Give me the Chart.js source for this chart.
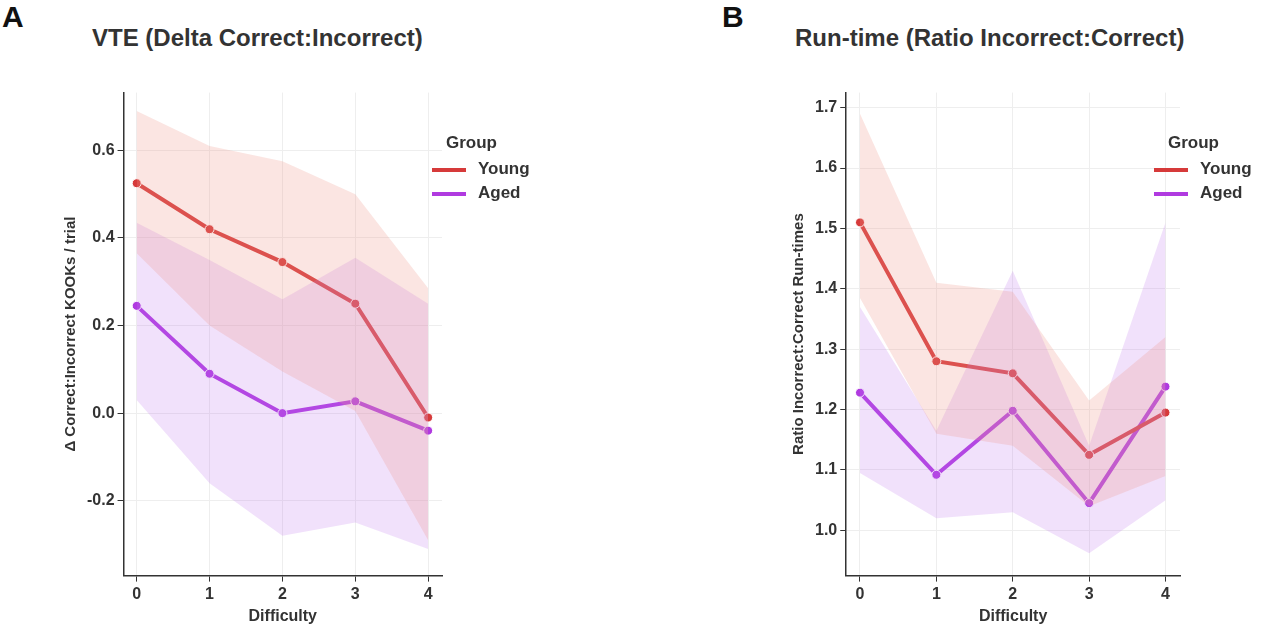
<!DOCTYPE html>
<html><head><meta charset="utf-8">
<script src="https://cdn.jsdelivr.net/npm/chart.js@4/dist/chart.umd.min.js"></script>
<style>
body{margin:0;width:1280px;height:626px;background:#fff;font-family:"Liberation Sans","DejaVu Sans",sans-serif;position:relative;overflow:hidden}
.abs{position:absolute}
.lab{font-size:30px;font-weight:bold;color:#111}
.title{font-size:24px;font-weight:bold;color:#333}
.leg{font-size:17px;font-weight:bold;color:#333}
.sw{display:inline-block;width:34px;height:4px;vertical-align:middle;margin-right:12px}
</style></head><body>
<div class="abs lab" style="left:2px;top:0px">A</div>
<div class="abs lab" style="left:722px;top:0px">B</div>
<div class="abs title" style="left:92px;top:24px">VTE (Delta Correct:Incorrect)</div>
<div class="abs title" style="left:795px;top:24px">Run-time (Ratio Incorrect:Correct)</div>
<div class="abs" style="left:58px;top:80px;width:392px;height:546px"><canvas id="cA"></canvas></div>
<div class="abs" style="left:786px;top:80px;width:402px;height:546px"><canvas id="cB"></canvas></div>
<div class="abs leg" style="left:446px;top:133px">Group<br>
<div style="margin:6px 0 0 -14px"><span class="sw" style="background:#d63a3a"></span>Young</div>
<div style="margin:4px 0 0 -14px"><span class="sw" style="background:#b03ae0"></span>Aged</div></div>
<div class="abs leg" style="left:1168px;top:133px">Group<br>
<div style="margin:6px 0 0 -14px"><span class="sw" style="background:#d63a3a"></span>Young</div>
<div style="margin:4px 0 0 -14px"><span class="sw" style="background:#b03ae0"></span>Aged</div></div>
<script>
const difficulty = [0, 1, 2, 3, 4];
// Panel A: VTE delta
const vteYoung = [0.525, 0.42, 0.345, 0.25, -0.01];
const vteYoungHi = [0.69, 0.61, 0.575, 0.50, 0.285];
const vteYoungLo = [0.365, 0.20, 0.095, 0.005, -0.29];
const vteAged = [0.245, 0.09, 0.0, 0.027, -0.04];
const vteAgedHi = [0.435, 0.35, 0.26, 0.355, 0.25];
const vteAgedLo = [0.03, -0.16, -0.28, -0.25, -0.31];
const vteTicks = [-0.2, 0.0, 0.2, 0.4, 0.6];
// Panel B: run-time ratio
const rtYoung = [1.51, 1.28, 1.26, 1.125, 1.195];
const rtYoungHi = [1.69, 1.41, 1.395, 1.215, 1.32];
const rtYoungLo = [1.385, 1.16, 1.14, 1.04, 1.09];
const rtAged = [1.228, 1.092, 1.198, 1.045, 1.238];
const rtAgedHi = [1.37, 1.165, 1.43, 1.14, 1.51];
const rtAgedLo = [1.095, 1.02, 1.03, 0.962, 1.05];
const rtTicks = [1.0, 1.1, 1.2, 1.3, 1.4, 1.5, 1.6, 1.7];

const RED = '#d63a3a', PURPLE = '#b03ae0';
const pts = arr => arr.map((v, i) => ({x: difficulty[i], y: v}));

function band(hi, lo, color) {
    return [
        {data: pts(hi), borderWidth: 0, pointRadius: 0, fill: '+1', backgroundColor: color},
        {data: pts(lo), borderWidth: 0, pointRadius: 0, fill: false}
    ];
}
function line(vals, color) {
    return {data: pts(vals), borderColor: color, backgroundColor: color, borderWidth: 4,
        pointRadius: 4.5, pointBorderColor: '#fff', pointBorderWidth: 1, fill: false};
}

function makeChart(id, sets, ticks, min, max, ytitle, decimals) {
    new Chart(document.getElementById(id), {
        type: 'line',
        data: {datasets: sets},
        options: {
            responsive: true, maintainAspectRatio: false, animation: false,
            layout: {padding: {top: 12, right: 8, bottom: 0}},
            plugins: {legend: {display: false}, tooltip: {enabled: false}},
            scales: {
                x: {type: 'linear', min: -0.18, max: 4.19,
                    grid: {color: '#eeeeee', tickColor: '#333', tickLength: 6},
                    border: {color: '#333', width: 1.5},
                    afterBuildTicks: ax => { ax.ticks = difficulty.map(v => ({value: v})); },
                    ticks: {color: '#333', font: {size: 16, weight: 'bold'}},
                    title: {display: true, text: 'Difficulty', color: '#333', font: {size: 16, weight: 'bold'}, padding: 0}},
                y: {min: min, max: max,
                    grid: {color: '#eeeeee', tickColor: '#333', tickLength: 6},
                    border: {color: '#333', width: 1.5},
                    afterBuildTicks: ax => { ax.ticks = ticks.map(v => ({value: v})); },
                    ticks: {color: '#333', font: {size: 16, weight: 'bold'}, callback: v => v.toFixed(decimals)},
                    title: {display: true, text: ytitle, color: '#333', font: {size: 15, weight: 'bold'}}}
            }
        }
    });
}

makeChart('cA', [
    ...band(vteYoungHi, vteYoungLo, 'rgba(240,150,140,0.25)'),
    ...band(vteAgedHi, vteAgedLo, 'rgba(190,120,235,0.22)'),
    line(vteYoung, RED), line(vteAged, PURPLE)
], vteTicks, -0.371, 0.732, 'Δ Correct:Incorrect KOOKs / trial', 1);

makeChart('cB', [
    ...band(rtYoungHi, rtYoungLo, 'rgba(240,150,140,0.25)'),
    ...band(rtAgedHi, rtAgedLo, 'rgba(190,120,235,0.22)'),
    line(rtYoung, RED), line(rtAged, PURPLE)
], rtTicks, 0.925, 1.725, 'Ratio Incorrect:Correct Run-times', 1);
</script>
</body></html>
